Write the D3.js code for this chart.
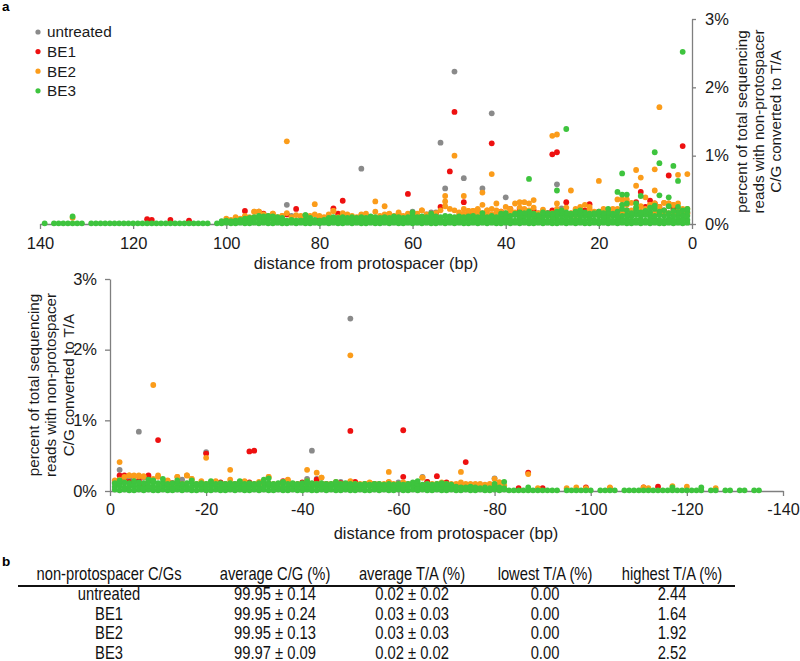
<!DOCTYPE html>
<html><head><meta charset="utf-8">
<script src="https://cdn.jsdelivr.net/npm/d3@7"></script>
<style>body{margin:0;background:#fff}svg{display:block}text{font-family:"Liberation Sans",Arial,sans-serif}</style>
</head><body><svg id="c" width="800" height="661"></svg>
<script>
// ---------- series ----------
const seriesNames = ["untreated","BE1","BE2","BE3"];
const seriesColors = ["#8a8a8a","#ee1010","#fb9c1a","#3ec43e"];

// ---------- TOP panel (distance 1..139 upstream), rows indexed by position-1 ----------
const topXTicks = [140,120,100,80,60,40,20,0];
const yTicks = [0,1,2,3];

const top_BE3_row1 = [
.02,.01,.02,.01,.02,.01,.01,.02,.01,.02, .01,.02,.01,.01,.02,.01,.02,.01,.02,.01,
.02,.01,.01,.02,.01,.02,.01,.02,.01,.01, .02,.01,.02,.01,.01,.02,.01,.02,.01,.02,
.01,.01,.02,.01,.02,.01,.02,.01,.01,.02, .01,.02,.01,.02,.01,.01,.02,.01,.02,.01,
.02,.01,.01,.02,.01,.02,.01,.01,.02,.01, .01,.02,.01,.02,.01,.01,.02,.01,.02,.01,
.02,.01,.01,.02,.01,.02,.01,.01,.02,.01, .01,.02,.01,.02,.01,.01,.02,.01,.01,.02,
.01,.01,null,.01,.01,.01,.01,.01,.01,.01, .01,.01,.01,.01,.01,.01,.01,.01,.01,.01,
.01,.01,.01,.01,.01,.01,.01,.01,.01,null, .01,.01,.01,.01,.01,.01,.01,null,.01];
const top_BE3_row2 = [
.06,.07,.05,.06,.07,.05,.06,.07,.06,.05, .07,.06,.05,.07,.06,.06,.05,.07,.06,.05,
.06,.07,.05,.06,.06,.07,.05,.06,.07,.06, .05,.06,.07,.06,.05,.06,.07,.05,.06,.06,
.07,.05,.06,.06,.07,.05,.06,.07,.05,.06, .06,.07,.05,.06,.06,.05,.07,.06,.05,.06,
.07,.05,.06,.05,.06,.07,.05,.06,.05,.06, .05,.06,.07,.05,.06,.05,.06,.05,.06,.05,
.06,.05,.06,.05,.05,.06,.05,.06,.07,.06, .07,.06,.08,.07,.06,.05,.06,.05,.04,.05, .04];
const top_BE3_row3 = [
.12,.13,.11,.12,.14,.12,.13,.12,.11,.13, .12,.14,.11,.13,.12,.11,.12,.13,.11,.12,
.13,.11,.12,.11,.13,.12,.11,.12,.13,.11, .12,.11,.13,.12,.11,.12,.11,.13,.12,.11,
.11,.10,.12,.10,.11,.10,.12,.11,.10,.11, .10,.11,.12,.10,.11,.10,.10,.11,.10,.12,
.10,.09,.10,.11,.09,.10,.09,.10,.11,.09, .10,.09,.10,.09,.10,.09,.10,.09,null,null,
null,.09,.13,null,null,null,null,.09,.10,.11, .12,.11,.12,.10,.09,.08];
const top_BE3_row4 = [
.18,.20,.17,.19,.16,.20,.18,.22,.17,.19, .17,.20,.16,.20,.22,.18,.15,.17,.16,.18,
.16,.15,.17,.16,.18,.15,.17,.16,.18,.15, .16,.17,null,.15,.18,.16,.17,.15,null,.16, .15];
const top_BE3_high = [[2,2.52],[27,1.39],[8,1.05],[7,0.89],[4,0.85],[15,0.74],[35,0.66],[3,0.63],
[29,0.49],[16,0.47],[15,0.43],[14,0.43],[7,0.42],[11,0.41],[5,0.39],[12,0.30],[14,0.30],[15,0.28],
[8,0.27],[3,0.25],[133,0.11],[60,0.17],[83,0.13],[56,0.15],[45,0.16],[28,0.20],[18,0.22],[12,0.24],
[9,0.24],[1,0.22],[5,0.26],[24,0.20]];

const top_BE2_row = [
.22,.20,.30,.28,.30,.31,.25,.30,.28,.22, .26,.24,.20,.28,.28,.22,.18,.15,.20,.16,
.18,.22,.28,.25,.20,.16,.24,.18,.22,.16, .14,.18,.16,.24,.20,.22,.24,.30,.20,.16,
.18,.20,.22,.20,.28,.20,.19,.19,.22,.17, .20,.22,.26,.20,.16,.15,.14,.20,.15,.13,
.15,.12,.14,.12,.15,.14,.12,.18,.10,.12, .14,.10,.12,.14,.12,.10,.19,.14,.10,.12,
.14,.12,.10,.12,.13,.10,.16,.12,.10,.15, .12,.14,.18,.18,.10,.12,.08,.10,.06,.08];
const top_BE2_row2 = [
.15,.16,.18,.14,.16,.17,.15,.17,.16,.15, .18,.16,.15,.17,.16,.15,.14,.12,.14,.13,
.14,.15,.16,.14,.13,.12,.15,.14,.16,.13, .12,.13,.12,.15,.14,.15,.16,.17,.14,.12,
.13,.15,.14,.13,.16,.14,.13,.12,.15,.13];
const top_BE2_high = [[87,1.21],[51,1.00],[43,0.73],[30,1.29],[29,1.31],[7,1.71],[1,0.73],[3,0.72],
[8,0.80],[12,0.79],[11,0.68],[12,0.56],[20,0.63],[26,0.49],[53,0.41],[53,0.33],[49,0.41],[45,0.46],
[68,0.33],[66,0.26],[81,0.29],[94,0.18],[93,0.18],[77,0.19],[29,0.30],[37,0.32],[36,0.32],[35,0.30],
[34,0.35],[16,0.36],[15,0.36],[14,0.36],[10,0.39],[8,0.49],[58,0.20],[48,0.19],[47,0.19],[46,0.22],
[44,0.20],[9,0.28],[6,0.31],[5,0.30],[4,0.28],[2,0.22],[133,0.09],[90,0.15],[63,0.17],[40,0.25],
[39,0.22],[32,0.21],[19,0.22],[13,0.31],[17,0.22],[22,0.25],[25,0.22],[70,0.15],[75,0.16],[88,0.12],[42,0.30]];

const top_BE1_high = [[51,1.64],[43,1.18],[30,1.02],[29,1.05],[2,1.14],[52,0.77],[5,0.71],[61,0.44],
[49,0.32],[27,0.32],[11,0.47],[9,0.34],[12,0.32],[8,0.30],[96,0.19],[92,0.15],[87,0.14],[85,0.22],
[77,0.23],[75,0.34],[63,0.14],[54,0.25],[46,0.15],[39,0.22],[37,0.22],[34,0.20],[30,0.20],[24,0.23],
[22,0.29],[1,0.16],[117,0.07],[116,0.06],[112,0.06],[108,0.05],[70,0.10],[57,0.12],[44,0.14],[33,0.12],
[26,0.15],[19,0.14],[17,0.16],[14,0.20],[10,0.25],[6,0.20],[4,0.22],[3,0.18],[65,0.10],[80,0.10],
[90,0.12],[97,0.06],[41,0.18],[36,0.20],[31,0.16],[23,0.20],[20,0.18],[15,0.16],[7,0.25],[76,0.15],
[55,0.15],[48,0.14],[59,0.11]];

const top_untreated_high = [[51,2.23],[43,1.62],[54,1.19],[71,0.81],[49,0.67],[53,0.52],[45,0.52],
[40,0.39],[29,0.58],[28,0.23],[87,0.28],[93,0.18],[71,0.13],[60,0.18],[56,0.17],[55,0.17],[10,0.20],
[57,0.14],[86,0.12],[84,0.10],[78,0.12],[66,0.12],[47,0.13],[38,0.14],[33,0.16],[25,0.13],[21,0.17],
[18,0.16],[13,0.14],[6,0.18],[3,0.15],[62,0.10],[74,0.10],[91,0.10],[95,0.08],[50,0.12],[35,0.12],[31,0.15]];

// ---------- BOTTOM panel (distance -1..-135 downstream), rows indexed by |position|-1 ----------
const botXTicks = [0,-20,-40,-60,-80,-100,-120,-140];

const bot_BE3_row1 = [
.02,.01,.02,.01,.01,.02,.01,.02,.01,.01, .02,.01,.01,.02,.01,.02,.01,.01,.02,.01,
.01,.02,.01,.01,.02,.01,.02,.01,.01,.02, .01,.02,.01,.01,.02,.01,.01,.02,.01,.01,
.02,.01,.01,.02,.01,.02,.01,.01,.02,.01, .01,.02,.01,.01,.02,.01,.02,.01,.01,.02,
.01,.01,.02,.01,.02,.01,.01,.02,.01,.01, .02,.01,.01,.02,.01,.01,.02,.01,.01,.02,
.01,.02,.01,.01,.01,.01,.01,.01,.01,.01, .01,.01,.01,null,.01,.01,.01,.01,.01,.01,
null,.01,.01,.01,.01,null,.01,.01,.01,.01, .01,.01,.01,.01,.01,.01,.01,.01,.01,.01,
.01,.01,.01,null,.01,.01,null,.01,.01,null, .01,.01,null,.01,.01];
const bot_BE3_row2 = [
.06,.07,.05,.06,.07,.06,.05,.07,.06,.05, .07,.06,.05,.06,.07,.05,.06,.07,.06,.05,
.06,.07,.05,.06,.05,.07,.06,.05,.06,.07, .05,.06,.07,.06,.05,.06,.05,.07,.06,.05,
.06,.05,.07,.06,.05,.06,.07,.05,.06,.05, .06,.05,.06,.07,.05,.06,.05,.06,.05,.06,
.05,.06,.07,.05,.06,.05,.06,.05,.06,.05, .05,.06,.05,.05,.06,.05,.04,.05,.04,.06, .05,.04];
const bot_BE3_row3 = [
.11,.10,.12,.11,.10,.12,.11,.13,.12,.11, .12,.10,.11,.12,.10,.11,.12,.10,.11,.10,
.12,.10,.11,.10,.11,.10,.12,.10,.11,.10, .11,.12,.11,.10,.11,.12,.10,.11,.10,.11,
.10,.11,.10,.11,.10,.10,.11,.10,.11,.10, .10,.09,.10,.09,.10,.10,.09,.10,.09,.10,
.09,.10,.09,.10,.09,.10,.09,.10,.09,.10, .09];
const bot_BE3_high = [[-11,0.17],[-63,0.12],[-82,0.13],[-69,0.11],[-33,0.18],[-32,0.16],[-21,0.14],
[-27,0.14],[-8,0.16],[-9,0.15],[-17,0.15],[-14,0.15],[-117,0.05],[-123,0.05],[-64,0.14],[-80,0.10],
[-87,0.05],[-41,0.14],[-47,0.13],[-36,0.13],[-2,0.15],[-5,0.14]];

const bot_BE2_row = [
.14,.16,.13,.22,.21,.21,.20,.14,.17,.20, .10,.15,.10,.20,.10,.22,.17,.10,.14,.10,
.10,.14,.10,.10,.16,.10,.10,.14,.10,.10, .13,.10,.20,.10,.10,.13,.16,.10,.10,.10,
.14,.10,.10,.19,.10,.10,.13,.10,.10,.14, .10,.10,.10,.12,.10,.10,.10,.13,.10,.10,
.12,.10,.10,.10,.19,.10,.10,.10,.12,.10, .10,.10,.12,.10,.10,.10,.10,.09,.10,.17, .12,.08];
const bot_BE2_high = [[-50,1.92],[-9,1.50],[-20,0.47],[-25,0.30],[-41,0.30],[-43,0.26],[-2,0.41],
[-58,0.27],[-73,0.27],[-87,0.24],[-81,0.12],[-65,0.19],[-117,0.07],[-97,0.05],[-99,0.04],[-104,0.05],
[-120,0.06],[-4,0.22],[-5,0.22],[-6,0.22],[-7,0.21],[-10,0.22],[-14,0.20],[-16,0.22],[-33,0.20],
[-44,0.19],[-17,0.17],[-3,0.20],[-1,0.15],[-28,0.13],[-37,0.15],[-53,0.10],[-89,0.04],[-95,0.04],
[-112,0.04],[-111,0.05],[-126,0.04]];

const bot_BE1_high = [[-50,0.85],[-61,0.86],[-10,0.72],[-29,0.56],[-30,0.57],[-20,0.53],[-74,0.41],
[-68,0.21],[-61,0.20],[-2,0.22],[-3,0.22],[-8,0.22],[-3,0.15],[-6,0.15],[-12,0.14],[-23,0.12],
[-29,0.12],[-36,0.14],[-51,0.13],[-73,0.08],[-87,0.26],[-114,0.06],[-111,0.05],[-99,0.05],[-90,0.04],
[-104,0.04],[-1,0.12],[-4,0.13],[-7,0.10],[-13,0.11],[-19,0.10],[-24,0.10],[-40,0.12],[-45,0.10],
[-55,0.10],[-48,0.11],[-58,0.12],[-66,0.13],[-80,0.08],[-70,0.12],[-85,0.04],[-43,0.16],[-27,0.12],
[-33,0.10],[-15,0.10]];

const bot_untreated_high = [[-50,2.44],[-6,0.84],[-20,0.55],[-42,0.57],[-2,0.30],[-4,0.17],[-7,0.19],
[-15,0.16],[-41,0.17],[-43,0.17],[-48,0.13],[-50,0.13],[-66,0.13],[-80,0.18],[-65,0.20],[-8,0.19],
[-3,0.12],[-12,0.10],[-26,0.10],[-31,0.11],[-38,0.10],[-55,0.10],[-60,0.12],[-75,0.08]];

// ---------- TABLE ----------
const tableHeader = ["non-protospacer C/Gs","average C/G (%)","average T/A (%)","lowest T/A (%)","highest T/A (%)"];
const tableNames = ["untreated","BE1","BE2","BE3"];
const tableAvgCG = ["99.95 \u00b1 0.14","99.95 \u00b1 0.24","99.95 \u00b1 0.13","99.97 \u00b1 0.09"];
const tableAvgTA = ["0.02 \u00b1 0.02","0.03 \u00b1 0.03","0.03 \u00b1 0.03","0.02 \u00b1 0.02"];
const tableLowest = ["0.00","0.00","0.00","0.00"];
const tableHighest = ["2.44","1.64","1.92","2.52"];

// ---------- helpers ----------
function fromRow(arr, sign){ return arr.map((v,i)=> v==null?null:{pos:sign*(i+1),val:v}).filter(Boolean); }
function fromPairs(arr){ return arr.map(d=>({pos:d[0],val:d[1]})); }

const topData = [
  fromPairs(top_untreated_high),
  fromPairs(top_BE1_high),
  fromRow(top_BE2_row,1).concat(fromRow(top_BE2_row2,1), fromPairs(top_BE2_high)),
  fromRow(top_BE3_row1,1).concat(fromRow(top_BE3_row2,1), fromRow(top_BE3_row3,1), fromRow(top_BE3_row4,1), fromPairs(top_BE3_high))
];
const botData = [
  fromPairs(bot_untreated_high),
  fromPairs(bot_BE1_high),
  fromRow(bot_BE2_row,-1).concat(fromPairs(bot_BE2_high)),
  fromRow(bot_BE3_row1,-1).concat(fromRow(bot_BE3_row2,-1), fromRow(bot_BE3_row3,-1), fromPairs(bot_BE3_high))
];

const svg = d3.select("#c");
const AX = "#7f7f7f", TX = "#1a1a1a", R = 2.9;

function styleAxis(g, fs){
  g.select(".domain").attr("stroke",AX).attr("stroke-width",1.3);
  g.selectAll(".tick line").attr("stroke",AX).attr("stroke-width",1.3);
  g.selectAll(".tick text").attr("fill",TX).attr("font-size",fs).attr("font-family","Liberation Sans, Arial, sans-serif");
}
const pct = d => d + "%";
const num = d => String(d);   // plain hyphen-minus, as in the reference

// ----- top panel -----
const xT = d3.scaleLinear().domain([140,0]).range([40,692]);
const yT = d3.scaleLinear().domain([0,3]).range([224,19]);
svg.append("g").attr("transform","translate(0,224)")
  .call(d3.axisBottom(xT).tickValues(topXTicks).tickFormat(num).tickSize(5).tickPadding(8).tickSizeOuter(0))
  .call(g=>styleAxis(g,16.5));
svg.append("g").attr("transform","translate(692,0)")
  .call(d3.axisRight(yT).tickValues(yTicks).tickFormat(pct).tickSize(4).tickPadding(9).tickSizeOuter(0))
  .call(g=>styleAxis(g,16.5));
topData.forEach((pts,si)=>{
  svg.append("g").selectAll("circle").data(pts).join("circle")
    .attr("cx",d=>xT(d.pos)).attr("cy",d=>yT(d.val)).attr("r",R).attr("fill",seriesColors[si]);
});
svg.append("text").attr("x",366).attr("y",269).attr("text-anchor","middle").attr("font-size",16.5).attr("fill",TX)
  .text("distance from protospacer (bp)");
const yTitle = ["percent of total sequencing","reads with non-protospacer","C/G converted to T/A"];
yTitle.forEach((t,i)=>{
  svg.append("text").attr("transform",`translate(${742+i*17},121.5) rotate(-90)`).attr("dy","0.33em")
    .attr("text-anchor","middle").attr("font-size",15.2).attr("fill",TX).text(t);
});

// legend
seriesNames.forEach((n,i)=>{
  const yy = 32 + i*19.6;
  svg.append("circle").attr("cx",38).attr("cy",yy).attr("r",2.6).attr("fill",seriesColors[i]);
  svg.append("text").attr("x",47).attr("y",yy+5.3).attr("font-size",15.3).attr("fill",TX).text(n);
});

// ----- bottom panel -----
const xB = d3.scaleLinear().domain([0,-140]).range([110,783]);
const yB = d3.scaleLinear().domain([0,3]).range([491,279]);
svg.append("g").attr("transform","translate(0,491)")
  .call(d3.axisBottom(xB).tickValues(botXTicks).tickFormat(num).tickSize(5).tickPadding(7).tickSizeOuter(0))
  .call(g=>styleAxis(g,16.2));
svg.append("g").attr("transform","translate(110,0)")
  .call(d3.axisLeft(yB).tickValues(yTicks).tickFormat(pct).tickSize(5).tickPadding(8).tickSizeOuter(0))
  .call(g=>styleAxis(g,16.5));
botData.forEach((pts,si)=>{
  svg.append("g").selectAll("circle").data(pts).join("circle")
    .attr("cx",d=>xB(d.pos)).attr("cy",d=>yB(d.val)).attr("r",R).attr("fill",seriesColors[si]);
});
svg.append("text").attr("x",446).attr("y",539).attr("text-anchor","middle").attr("font-size",16.5).attr("fill",TX)
  .text("distance from protospacer (bp)");
yTitle.forEach((t,i)=>{
  svg.append("text").attr("transform",`translate(${33.5+i*17.5},385) rotate(-90)`).attr("dy","0.33em")
    .attr("text-anchor","middle").attr("font-size",15.2).attr("fill",TX).text(t);
});

// panel letters
svg.append("text").attr("x",2).attr("y",11).attr("font-size",13.5).attr("font-weight","bold").attr("fill","#000").text("a");
svg.append("text").attr("x",2).attr("y",566).attr("font-size",13.5).attr("font-weight","bold").attr("fill","#000").text("b");

// ----- table -----
const colX = [109,275,412,545,672];
const SX = 0.82, TFS = 18;
function tcell(x,y,t){
  svg.append("text").attr("transform",`translate(${x},${y}) scale(${SX},1)`).attr("text-anchor","middle")
    .attr("font-size",TFS).attr("fill","#111").text(t);
}
tableHeader.forEach((h,i)=>tcell(colX[i],580,h));
svg.append("line").attr("x1",18).attr("x2",735).attr("y1",586).attr("y2",586).attr("stroke","#111").attr("stroke-width",1.8);
const cols = [tableNames,tableAvgCG,tableAvgTA,tableLowest,tableHighest];
tableNames.forEach((_,r)=>{
  cols.forEach((c,ci)=>tcell(colX[ci],600+r*19.6,c[r]));
});
</script></body></html>
